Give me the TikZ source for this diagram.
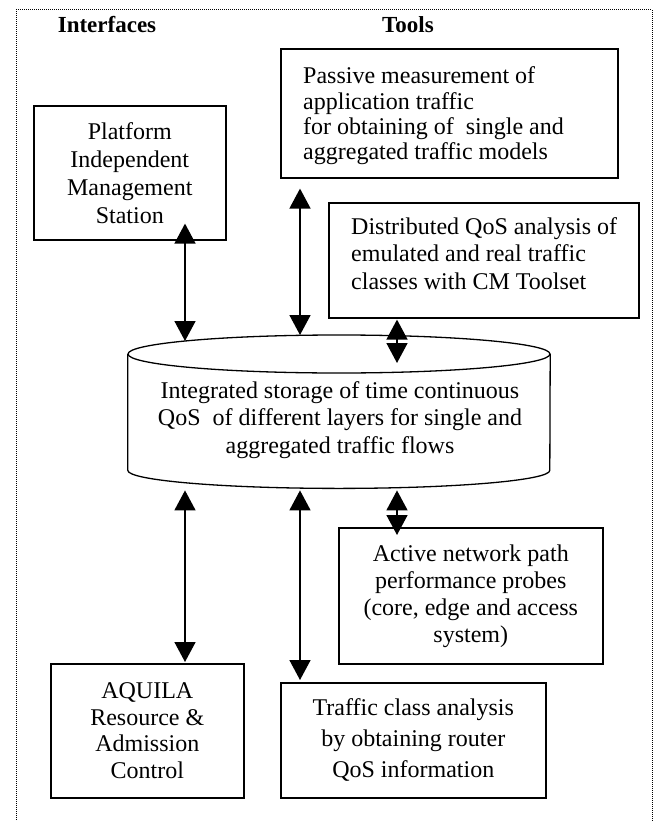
\documentclass[tikz,border=0pt]{standalone}
\usepackage{fontspec}
\setmainfont{Liberation Serif}
\usetikzlibrary{arrows.meta,calc}
\begin{document}
\begin{tikzpicture}[x=1pt,y=-1pt,
  box/.style={draw, line width=1.6pt, inner sep=0pt, anchor=north west, align=center},
  txt/.style={inner sep=0pt},
  head/.style={inner sep=0pt, font=\bfseries\fontsize{23}{26}\selectfont},
  bi/.style={line width=1.6pt, {Triangle[length=20pt,width=21pt]}-{Triangle[length=20pt,width=21pt]}}]
\useasboundingbox (0,0) rectangle (656,821);

% frame (open at the bottom)
\draw[densely dotted, line width=1pt] (16,840) -- (16,10) -- (652,10) -- (652,840);

% column headings
\node[head] (hif) at (107,25) {Interfaces};
\node[head] (htl) at (408,25) {Tools};

% boxes
\node[box, minimum width=192pt, minimum height=134pt,
      font=\fontsize{24}{28}\selectfont] (plat) at (33,105)
  {Platform\\Independent\\Management\\Station};
\node[box, minimum width=337pt, minimum height=129pt] (pas) at (280,48) {};
\node[txt, anchor=west, align=left, font=\fontsize{24}{25.3}\selectfont] (pastxt)
  at ($(pas.west)+(23,2.5)$)
  {Passive measurement of\\application traffic\\for obtaining of~ single and\\aggregated traffic models};
\node[box, minimum width=310pt, minimum height=115pt] (dist) at (328,202) {};
\node[txt, anchor=west, align=left, font=\fontsize{24}{27.5}\selectfont] (disttxt)
  at ($(dist.west)+(23,-7)$)
  {Distributed QoS analysis of\\emulated and real traffic\\classes with CM Toolset};
\node[box, minimum width=264pt, minimum height=136pt,
      font=\fontsize{24}{27}\selectfont] (act) at (338,527)
  {Active network path\\performance probes\\(core, edge and access\\system)};
\node[box, minimum width=193pt, minimum height=134pt,
      font=\fontsize{24}{26.7}\selectfont] (aq) at (50,663)
  {AQUILA\\Resource \&\\Admission\\Control};
\node[box, minimum width=265pt, minimum height=115pt,
      font=\fontsize{24}{31}\selectfont] (tr) at (280,682)
  {Traffic class analysis\\by obtaining router\\QoS information};

% storage cylinder
\node[inner sep=0pt, minimum width=422pt, minimum height=153pt, anchor=north] (store) at (339,335) {};
\draw[line width=1.3pt] ($(store.north)+(0,19)$) ellipse [x radius=211pt, y radius=19pt];
\draw[line width=1.3pt] ($(store.north west)+(0,19)$) -- ($(store.south west)+(0,-18)$)
  arc[start angle=180, end angle=360, x radius=211pt, y radius=18pt]
  -- ($(store.north east)+(0,19)$);
\node[txt, align=center, font=\fontsize{24}{27.5}\selectfont] (storetxt) at (340,420)
  {Integrated storage of time continuous\\QoS~ of different layers for single and\\aggregated traffic flows};

% arrow columns
\coordinate (colA) at (185,0);
\coordinate (colB) at (300,0);
\coordinate (colC) at (397,0);

% connectors
\draw[bi] ($(colA |- plat.south)+(0,-17)$) -- ($(colA |- store.north)+(0,6)$);
\draw[bi] ($(colB |- pas.south)+(0,10)$) -- (colB |- store.north);
\draw[bi] ($(colC |- dist.south)+(0,1)$) -- ($(colC |- store.north)+(0,28)$);
\draw[bi] ($(colA |- store.south)+(0,2)$) -- ($(colA |- aq.north)+(0,-1)$);
\draw[bi] ($(colB |- store.south)+(0,2)$) -- ($(colB |- tr.north)+(0,-2)$);
\draw[bi] ($(colC |- store.south)+(0,2)$) -- ($(colC |- act.north)+(0,8)$);
\end{tikzpicture}
\end{document}
